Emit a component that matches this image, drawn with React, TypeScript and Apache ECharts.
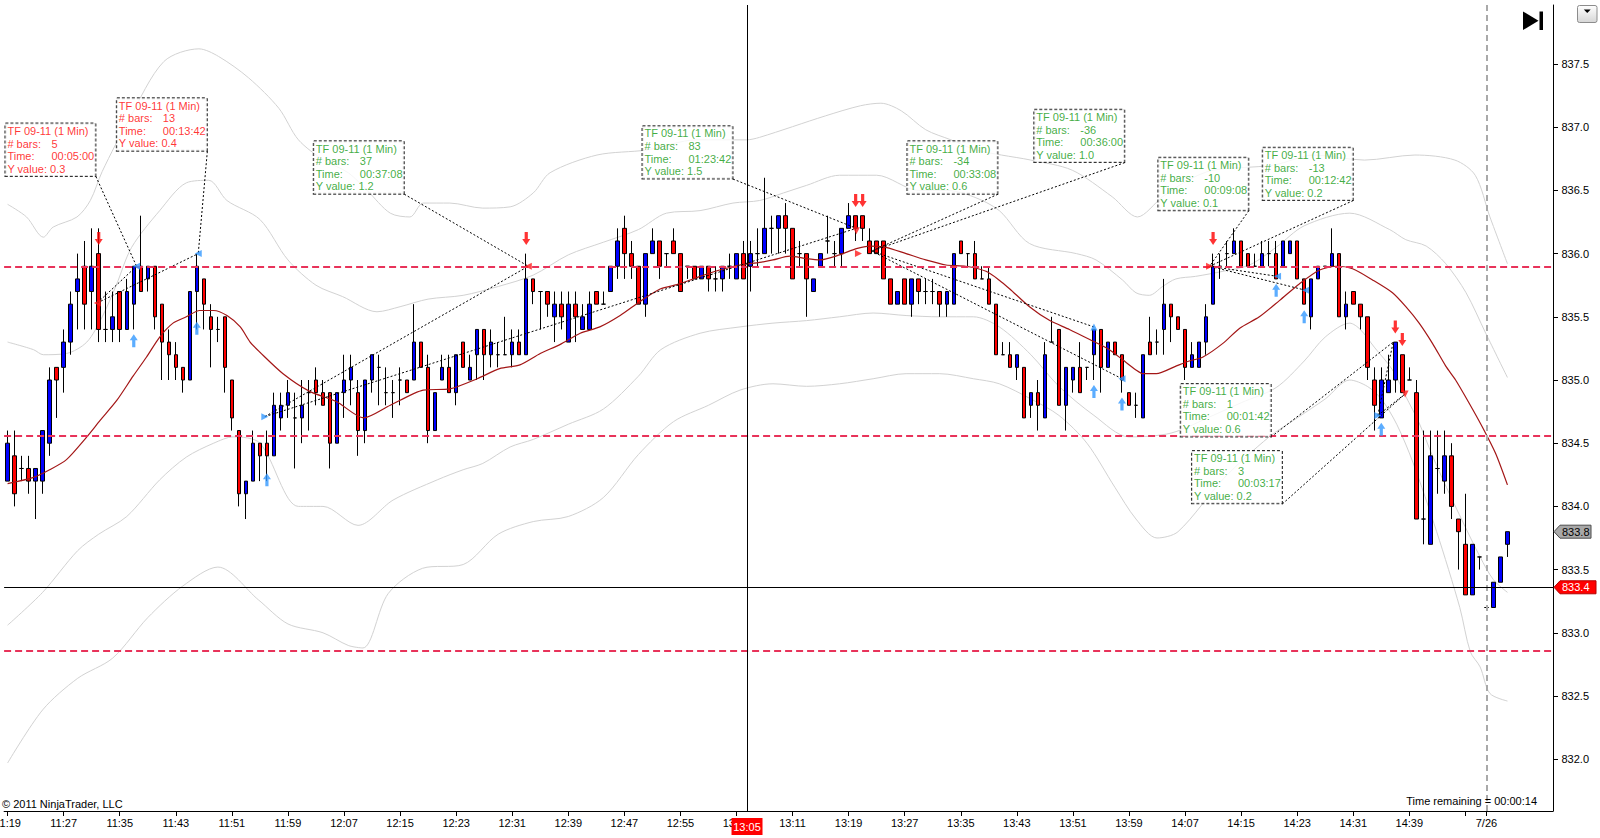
import React, { useEffect, useRef } from "react";
import * as echarts from "echarts";

const FONT = '"Liberation Sans", Arial, Helvetica, sans-serif';

const FIRST_BAR_TIME = "11:19";
const SLOT_COUNT = 221;

// [open, close, low, high] – one per 1-minute bar from 11:19
const CANDLES = [
  [834.2, 834.5, 834.2, 834.6], [834.4, 834.1, 834.0, 834.6], [834.3, 834.3, 834.2, 834.4], [834.3, 834.2, 834.1, 834.4],
  [834.2, 834.3, 833.9, 834.3], [834.2, 834.6, 834.1, 834.6], [834.5, 835.0, 834.4, 835.1], [835.1, 835.0, 834.7, 835.1],
  [835.1, 835.3, 834.9, 835.4], [835.3, 835.6, 835.2, 835.7], [835.7, 835.8, 835.4, 836.0], [835.9, 835.6, 835.4, 836.1],
  [835.7, 835.9, 835.4, 836.2], [836.0, 835.4, 835.3, 836.2], [835.4, 835.4, 835.3, 835.7], [835.4, 835.5, 835.3, 835.7],
  [835.7, 835.4, 835.3, 835.7], [835.4, 835.7, 835.4, 835.8], [835.6, 835.9, 835.4, 835.9], [835.9, 835.7, 835.7, 836.3],
  [835.8, 835.9, 835.7, 835.9], [835.9, 835.5, 835.4, 835.9], [835.6, 835.3, 835.0, 835.6], [835.3, 835.2, 835.0, 835.4],
  [835.2, 835.1, 835.0, 835.3], [835.1, 835.0, 834.9, 835.1], [835.0, 835.7, 835.0, 835.7], [835.7, 835.9, 835.4, 836.0],
  [835.8, 835.6, 835.4, 835.8], [835.5, 835.4, 835.1, 835.6], [835.4, 835.4, 835.3, 835.5], [835.5, 835.1, 834.9, 835.5],
  [835.0, 834.7, 834.6, 835.0], [834.6, 834.1, 834.0, 834.6], [834.1, 834.2, 833.9, 834.2], [834.2, 834.5, 834.2, 834.6],
  [834.5, 834.4, 834.2, 834.5], [834.5, 834.4, 834.2, 834.6], [834.4, 834.8, 834.4, 834.9], [834.7, 834.8, 834.6, 834.9],
  [834.8, 834.9, 834.7, 835.0], [834.7, 834.7, 834.3, 834.9], [834.7, 834.8, 834.5, 835.0], [834.9, 834.9, 834.6, 835.0],
  [835.0, 834.9, 834.8, 835.1], [834.9, 834.8, 834.8, 835.0], [834.9, 834.5, 834.3, 834.9], [834.5, 834.9, 834.5, 834.9],
  [834.9, 835.0, 834.7, 835.2], [835.0, 835.1, 834.8, 835.2], [834.9, 834.6, 834.4, 835.0], [834.6, 835.0, 834.5, 835.0],
  [835.0, 835.2, 834.9, 835.2], [835.1, 835.1, 834.8, 835.2], [834.9, 834.9, 834.8, 835.1], [834.9, 834.9, 834.7, 835.0],
  [835.0, 835.0, 834.8, 835.1], [835.0, 834.9, 834.9, 835.0], [835.0, 835.3, 835.0, 835.6], [835.3, 835.1, 835.1, 835.3],
  [835.1, 834.6, 834.5, 835.2], [834.6, 834.9, 834.6, 834.9], [835.0, 835.1, 835.0, 835.2], [835.1, 834.9, 834.9, 835.2],
  [834.9, 835.2, 834.8, 835.2], [835.3, 835.1, 835.1, 835.3], [835.0, 835.1, 835.0, 835.2], [835.2, 835.4, 835.0, 835.4],
  [835.4, 835.2, 835.0, 835.4], [835.2, 835.3, 835.1, 835.4], [835.2, 835.2, 835.1, 835.3], [835.2, 835.2, 835.2, 835.5],
  [835.2, 835.3, 835.1, 835.4], [835.3, 835.2, 835.2, 835.4], [835.2, 835.8, 835.2, 836.0], [835.8, 835.7, 835.6, 835.8],
  [835.7, 835.7, 835.4, 835.7], [835.7, 835.6, 835.5, 835.7], [835.5, 835.6, 835.3, 835.7], [835.6, 835.5, 835.4, 835.7],
  [835.3, 835.6, 835.3, 835.7], [835.6, 835.5, 835.3, 835.7], [835.4, 835.5, 835.4, 835.6], [835.4, 835.6, 835.4, 835.7],
  [835.7, 835.6, 835.6, 835.7], [835.6, 835.6, 835.6, 835.7], [835.7, 835.9, 835.7, 835.9], [835.9, 836.1, 835.8, 836.2],
  [836.2, 836.0, 835.8, 836.3], [836.0, 835.9, 835.8, 836.1], [835.9, 835.6, 835.6, 835.9], [835.6, 836.0, 835.5, 836.0],
  [836.0, 836.1, 836.0, 836.2], [836.1, 835.9, 835.8, 836.1], [836.0, 836.0, 835.9, 836.0], [836.1, 836.0, 836.0, 836.2],
  [836.0, 835.7, 835.7, 836.0], [835.9, 835.9, 835.8, 835.9], [835.9, 835.8, 835.8, 835.9], [835.8, 835.9, 835.8, 835.9],
  [835.9, 835.8, 835.7, 835.9], [835.8, 835.8, 835.7, 835.9], [835.8, 835.9, 835.7, 835.9], [835.9, 835.9, 835.8, 836.0],
  [835.8, 836.0, 835.8, 836.0], [836.0, 835.8, 835.8, 836.1], [835.9, 836.0, 835.7, 836.1], [836.0, 836.0, 835.9, 836.2],
  [836.0, 836.2, 836.0, 836.6], [836.2, 836.2, 836.0, 836.3], [836.2, 836.3, 836.0, 836.3], [836.3, 836.2, 836.0, 836.4],
  [836.2, 835.8, 835.8, 836.2], [836.0, 836.0, 835.9, 836.1], [836.0, 835.8, 835.5, 836.0], [835.7, 835.8, 835.7, 835.8],
  [835.9, 836.0, 835.9, 836.0], [836.1, 836.1, 836.0, 836.3], [836.0, 836.0, 835.9, 836.1], [836.0, 836.2, 835.9, 836.2],
  [836.2, 836.3, 836.2, 836.4], [836.3, 836.2, 836.1, 836.3], [836.3, 836.2, 836.1, 836.3], [836.1, 836.0, 836.0, 836.2],
  [836.1, 836.0, 836.0, 836.1], [836.1, 835.8, 835.8, 836.1], [835.8, 835.6, 835.6, 835.8], [835.6, 835.7, 835.6, 835.7],
  [835.8, 835.6, 835.6, 835.8], [835.6, 835.8, 835.5, 835.8], [835.8, 835.7, 835.6, 835.8], [835.7, 835.7, 835.6, 835.8],
  [835.7, 835.7, 835.6, 835.8], [835.7, 835.6, 835.5, 835.7], [835.6, 835.7, 835.5, 835.7], [835.6, 836.0, 835.6, 836.0],
  [836.1, 836.0, 836.0, 836.1], [836.0, 836.0, 835.9, 836.0], [836.0, 835.8, 835.8, 836.1], [835.8, 835.8, 835.8, 835.9],
  [835.8, 835.6, 835.6, 835.9], [835.6, 835.2, 835.2, 835.6], [835.2, 835.2, 835.2, 835.3], [835.2, 835.1, 835.1, 835.3],
  [835.1, 835.2, 835.0, 835.2], [835.1, 834.7, 834.7, 835.1], [834.8, 834.9, 834.7, 834.9], [834.9, 834.8, 834.6, 835.0],
  [834.7, 835.2, 834.7, 835.3], [835.3, 835.3, 835.3, 835.5], [835.4, 834.8, 834.8, 835.4], [834.8, 835.1, 834.6, 835.1],
  [835.0, 835.1, 834.9, 835.1], [835.1, 834.9, 834.9, 835.3], [835.1, 835.1, 835.0, 835.1], [835.2, 835.4, 835.0, 835.4],
  [835.4, 835.1, 834.9, 835.4], [835.1, 835.3, 835.1, 835.3], [835.3, 835.2, 835.2, 835.3], [835.2, 835.0, 834.9, 835.2],
  [834.9, 834.8, 834.8, 834.9], [834.8, 834.8, 834.7, 834.9], [834.7, 835.2, 834.7, 835.2], [835.3, 835.2, 835.2, 835.5],
  [835.3, 835.3, 835.2, 835.4], [835.4, 835.6, 835.2, 835.8], [835.6, 835.5, 835.3, 835.6], [835.5, 835.4, 835.4, 835.5],
  [835.4, 835.1, 835.0, 835.4], [835.1, 835.2, 835.1, 835.3], [835.1, 835.3, 835.1, 835.3], [835.3, 835.5, 835.2, 835.6],
  [835.6, 835.9, 835.6, 836.0], [835.9, 835.9, 835.8, 836.0], [836.0, 836.0, 835.9, 836.1], [836.0, 836.1, 836.0, 836.2],
  [836.1, 835.9, 835.9, 836.1], [836.0, 835.9, 835.9, 836.0], [835.9, 835.9, 835.9, 836.0], [835.9, 836.0, 835.9, 836.1],
  [836.0, 836.0, 835.9, 836.1], [836.0, 835.8, 835.8, 836.1], [835.9, 836.1, 835.9, 836.1], [836.0, 836.1, 836.0, 836.1],
  [836.1, 835.8, 835.8, 836.1], [835.8, 835.6, 835.6, 835.8], [835.5, 835.8, 835.4, 835.8], [835.8, 835.9, 835.8, 835.9],
  [835.9, 835.9, 835.9, 835.9], [835.9, 836.0, 835.9, 836.2], [836.0, 835.5, 835.5, 836.0], [835.5, 835.6, 835.4, 835.7],
  [835.7, 835.6, 835.6, 835.7], [835.6, 835.5, 835.4, 835.6], [835.5, 835.1, 835.0, 835.5], [835.0, 834.8, 834.6, 835.1],
  [834.7, 835.0, 834.7, 835.1], [834.9, 835.0, 834.9, 835.2], [835.0, 835.3, 834.9, 835.3], [835.2, 834.9, 834.9, 835.2],
  [835.0, 835.0, 835.0, 835.1], [834.9, 833.9, 833.9, 835.0], [833.9, 833.9, 833.7, 834.6], [833.7, 834.4, 833.7, 834.6],
  [834.3, 834.3, 834.1, 834.6], [834.2, 834.4, 834.1, 834.6], [834.4, 834.0, 833.9, 834.5], [833.9, 833.8, 833.5, 833.9],
  [833.7, 833.3, 833.3, 834.1], [833.3, 833.7, 833.3, 833.7], [833.6, 833.6, 833.5, 833.6], [833.2, 833.2, 833.2, 833.2],
  [833.2, 833.4, 833.2, 833.4], [833.4, 833.6, 833.4, 833.6], [833.7, 833.8, 833.6, 833.8],
];

// moving average line: [bar index, price]
const MOVING_AVERAGE = [
  [0, 834.18], [3.7, 834.23], [6, 834.29], [8.4, 834.37], [11.3, 834.55], [13.2, 834.68], [15.6, 834.84], [17.9, 835.03],
  [19.8, 835.18], [21.7, 835.34], [23.6, 835.45], [25.5, 835.5], [27.4, 835.55], [29.4, 835.55], [31.3, 835.51],
  [33.2, 835.42], [34.6, 835.3], [36, 835.22], [39.3, 835.05], [43.1, 834.91], [46.9, 834.83], [50.8, 834.7],
  [54.6, 834.8], [59.3, 834.92], [63.1, 834.93], [67, 835.01], [70.2, 835.09], [73.1, 835.12], [76, 835.21],
  [78.8, 835.28], [81.7, 835.37], [84.5, 835.42], [87.4, 835.51], [90.2, 835.62], [93.1, 835.72], [95.9, 835.76],
  [98.8, 835.82], [101.6, 835.87], [104.5, 835.91], [107.3, 835.93], [109.2, 835.95], [111.6, 835.98], [114, 835.96],
  [115.9, 835.95], [118.7, 835.99], [121.1, 836.04], [123, 836.06], [125.3, 836.05], [128.2, 836.0], [131, 835.95],
  [133.9, 835.91], [136.7, 835.9], [139.6, 835.86], [141.5, 835.79], [143, 835.72], [145.8, 835.58], [148.7, 835.47],
  [151.5, 835.4], [154.4, 835.32], [157.2, 835.24], [159.1, 835.16], [161, 835.08], [162, 835.05], [163.9, 835.05],
  [166.7, 835.11], [168.6, 835.15], [170.5, 835.18], [173.4, 835.29], [175.8, 835.41], [178.6, 835.5], [181.5, 835.63],
  [184.3, 835.76], [187.2, 835.87], [189.6, 835.9], [191.9, 835.88], [194.8, 835.79], [197.6, 835.69], [199.5, 835.58],
  [201.4, 835.45], [203.3, 835.29], [205.2, 835.11], [206.6, 835.0], [208.5, 834.82], [210.4, 834.63], [212.3, 834.42],
  [214, 834.17],
];

const BAND_OUTER_UPPER = [
  [0, 836.39], [2.7, 836.29], [5.1, 836.13], [6.5, 836.21], [9.9, 836.29], [11.8, 836.42], [13.5, 836.65], [17.4, 837.07],
  [22.3, 837.52], [27.3, 837.62], [30.1, 837.56], [34.4, 837.39], [38.7, 837.15], [41.5, 836.9], [45.1, 836.74],
  [48.6, 836.64], [51.3, 836.5], [54.6, 836.32], [57.4, 836.29], [59.3, 836.4], [63.1, 836.4], [67.8, 836.36],
  [71.7, 836.37], [75, 836.48], [77.4, 836.64], [84.1, 836.78], [91.2, 836.82], [98.3, 836.9], [105.4, 836.9],
  [107.3, 836.92], [116.7, 837.09], [121.7, 837.17], [124.6, 837.19], [127.5, 837.13], [131, 836.98], [134.6, 836.9],
  [138.2, 836.82], [141.8, 836.78], [146, 836.74], [151.9, 836.66], [157.6, 836.45], [161.2, 836.29], [164.8, 836.45],
  [168.4, 836.58], [172, 836.66], [180.6, 836.7], [186.4, 836.78], [193.6, 836.74], [200.8, 836.78], [206.5, 836.74],
  [209.4, 836.62], [211.5, 836.29], [214, 835.92],
];
const BAND_INNER_UPPER = [
  [0, 835.3], [3.7, 835.24], [5.1, 835.2], [8.4, 835.21], [11.3, 835.3], [13.5, 835.5], [15.5, 835.75], [17.7, 836.05],
  [21.7, 836.34], [25.5, 836.56], [28.7, 836.58], [31.3, 836.42], [36, 836.27], [40, 835.95], [44, 835.75],
  [47.8, 835.66], [52.7, 835.54], [56, 835.58], [60, 835.64], [65, 835.67], [70, 835.74], [75, 835.83], [80, 835.99],
  [85, 836.09], [90, 836.19], [94, 836.32], [98.8, 836.34], [103.5, 836.4], [107.3, 836.42], [110.7, 836.48],
  [114, 836.54], [118.7, 836.62], [124, 836.62], [130, 836.5], [134, 836.5], [137.8, 836.45], [141.5, 836.34],
  [145.8, 836.08], [152.5, 836.0], [155.3, 835.95], [159.1, 835.79], [161, 835.69], [162.9, 835.67], [164.8, 835.74],
  [166.7, 835.8], [169.5, 835.82], [173.4, 835.86], [177.2, 835.91], [181, 836.05], [185, 836.22], [191.5, 836.32],
  [197.2, 836.19], [199.5, 836.11], [202.4, 836.06], [205.2, 835.92], [208.1, 835.69], [210.9, 835.37], [214, 835.02],
];
const BAND_INNER_LOWER = [
  [0, 833.06], [5, 833.32], [10, 833.65], [13, 833.78], [17, 833.92], [21.7, 834.21], [25.5, 834.39], [29.4, 834.5],
  [32.2, 834.55], [36, 834.5], [41.5, 834.0], [45, 834.0], [50, 833.85], [55, 834.05], [61.3, 834.21], [65, 834.29],
  [67.8, 834.34], [71.7, 834.47], [75, 834.53], [80, 834.65], [85, 834.77], [90, 835.03], [93.2, 835.24], [98.8, 835.37],
  [104.5, 835.42], [109.2, 835.45], [114, 835.47], [118.7, 835.5], [123.5, 835.53], [128.2, 835.51], [133, 835.5],
  [137.8, 835.5], [141.5, 835.42], [146, 835.2], [150, 834.95], [155, 834.72], [160, 834.55], [166, 834.58],
  [172, 834.72], [176, 834.82], [181, 834.94], [185, 835.15], [188, 835.34], [191.5, 835.45], [193, 835.4],
  [195, 835.26], [197.6, 835.08], [199.5, 834.87], [201.4, 834.66], [203.3, 834.4], [205.3, 834.15], [207.7, 833.87],
  [210.1, 833.6], [212, 833.42], [214, 833.32],
];
const BAND_OUTER_LOWER = [
  [0, 831.97], [5, 832.39], [10, 832.64], [15, 832.8], [20, 833.12], [25, 833.37], [30, 833.52], [35.8, 833.26],
  [40, 833.07], [45, 833.0], [48.6, 832.9], [50.7, 832.88], [54.3, 833.31], [59.2, 833.51], [65, 833.54], [70, 833.78],
  [75, 833.88], [80, 833.92], [85, 834.07], [90, 834.41], [95, 834.67], [100, 834.8], [104.5, 834.92], [109.2, 834.97],
  [114, 834.95], [118.7, 834.97], [123.5, 835.01], [128.2, 835.05], [133, 835.05], [137.8, 835.01], [141.5, 834.97],
  [146, 834.85], [150, 834.72], [154, 834.5], [158, 834.15], [161, 833.9], [164, 833.75], [167, 833.8], [173.5, 834.22],
  [180, 834.55], [184, 834.7], [188, 834.85], [191.5, 835.0], [194, 834.95], [196, 834.85], [198.2, 834.65],
  [200.5, 834.35], [203.9, 833.8], [207.2, 833.2], [208.7, 832.85], [210.1, 832.73], [211.5, 832.52], [214, 832.46],
];

const X_TICKS = [0, 8, 16, 24, 32, 40, 48, 56, 64, 72, 80, 88, 96, 104, 112, 120, 128, 136, 144, 152, 160, 168, 176, 184, 192, 200, 208, 211];
const X_LABELS = [
  [0, "11:19"], [8, "11:27"], [16, "11:35"], [24, "11:43"], [32, "11:51"], [40, "11:59"], [48, "12:07"], [56, "12:15"],
  [64, "12:23"], [72, "12:31"], [80, "12:39"], [88, "12:47"], [96, "12:55"], [104, "13:03"], [112, "13:11"], [120, "13:19"],
  [128, "13:27"], [136, "13:35"], [144, "13:43"], [152, "13:51"], [160, "13:59"], [168, "14:07"], [176, "14:15"],
  [184, "14:23"], [192, "14:31"], [200, "14:39"], [211, "7/26"],
];

const PRICE_MIN = 831.59;
const PRICE_MAX = 837.967;
const HORIZONTAL_LEVELS = [835.9, 834.56, 832.855];
const LAST_PRICE = 833.8;
const CROSS_INDEX = 105.5;
const CROSS_PRICE = 833.36;
const CROSS_TIME_LABEL = "13:05";
const CROSS_PRICE_LABEL = "833.4";
const SESSION_BREAK_INDEX = 211;

const SELL_ARROWS = [[13, 836.12], [74, 836.12], [121, 836.42], [122, 836.42], [172, 836.12], [198, 835.42], [199, 835.32]];
const BUY_ARROWS = [[18, 835.31], [27, 835.41], [37, 834.21], [155, 834.91], [159, 834.81], [181, 835.71], [185, 835.5], [196, 834.61]];

// [bar index, price, side, direction]
const ANCHOR_MARKERS = [
  [12.8, 835.61, "sell", "left"], [18.4, 835.9, "buy", "left"], [27.2, 836.0, "buy", "left"],
  [36.7, 834.71, "buy", "right"], [74.3, 835.9, "sell", "left"], [121.1, 836.18, "sell", "down"],
  [121.4, 836.0, "sell", "right"], [155.0, 835.42, "buy", "up"], [159.0, 835.01, "buy", "left"],
  [171.5, 835.9, "sell", "right"], [181.2, 835.82, "buy", "left"], [185.2, 835.71, "buy", "left"],
  [195.5, 834.72, "buy", "right"], [199.4, 834.89, "sell", "down"],
];

// ruler measurements: from -> to, in [bar index, price]
const RULER_LINES = [
  [[12.8, 835.61], [18.4, 835.9]], [[12.8, 835.61], [27.2, 836.0]],
  [[36.7, 834.71], [74.3, 835.9]], [[36.7, 834.71], [121.1, 836.2]],
  [[155.0, 835.42], [123.3, 836.02]], [[159.0, 835.01], [123.3, 836.02]],
  [[181.2, 835.82], [171.5, 835.9]], [[185.2, 835.71], [171.5, 835.9]],
  [[195.5, 834.72], [197.7, 835.3]], [[195.5, 834.72], [199.4, 834.89]],
];

// ruler read-outs: box bottom-right corner and the ruler end it points to
const RULER_BOXES = [
  { corner: [12.6, 836.61], target: [18.4, 835.9], bars: "5", time: "00:05:00", yValue: "0.3", kind: "red" },
  { corner: [28.5, 836.81], target: [27.2, 836.0], bars: "13", time: "00:13:42", yValue: "0.4", kind: "red" },
  { corner: [56.6, 836.47], target: [74.3, 835.9], bars: "37", time: "00:37:08", yValue: "1.2", kind: "green" },
  { corner: [103.5, 836.59], target: [121.1, 836.2], bars: "83", time: "01:23:42", yValue: "1.5", kind: "green" },
  { corner: [141.3, 836.47], target: [123.3, 836.02], bars: "-34", time: "00:33:08", yValue: "0.6", kind: "green" },
  { corner: [159.4, 836.72], target: [123.3, 836.02], bars: "-36", time: "00:36:00", yValue: "1.0", kind: "green" },
  { corner: [177.1, 836.34], target: [171.5, 835.9], bars: "-10", time: "00:09:08", yValue: "0.1", kind: "green" },
  { corner: [192.0, 836.42], target: [171.5, 835.9], bars: "-13", time: "00:12:42", yValue: "0.2", kind: "green" },
  { corner: [180.3, 834.55], target: [197.7, 835.3], bars: "1", time: "00:01:42", yValue: "0.6", kind: "green" },
  { corner: [181.9, 834.02], target: [199.4, 834.89], bars: "3", time: "00:03:17", yValue: "0.2", kind: "green" },
];
const INSTRUMENT_LABEL = "TF 09-11 (1 Min)";

const TEXT_COLORS = { red: "#ff0000", green: "#0f980f" };
const ROTATIONS = { up: 0, left: 90, down: 180, right: -90 };
const SIDE_COLORS = { sell: "#ff1a1a", buy: "#3399ff" };
const DOWN_ARROW = "path://M3,0L7,0L7,7L10,7L5,13L0,7L3,7Z";
const UP_ARROW = "path://M5,0L10,6L7,6L7,13L3,13L3,6L0,6Z";

const AXIS_X = 1553;
const BOX_W = 86;
const BOX_LINE = 12.6;

function buildCategories() {
  const [h, m] = FIRST_BAR_TIME.split(":").map(Number);
  const start = h * 60 + m;
  return Array.from({ length: SLOT_COUNT }, (_, i) => {
    const t = start + i;
    return `${Math.floor(t / 60)}:${String(t % 60).padStart(2, "0")}`;
  });
}

function bandSeries(name: string, data: number[][]) {
  return {
    type: "line",
    name,
    xAxisIndex: 1,
    yAxisIndex: 0,
    data,
    symbol: "none",
    smooth: 0.3,
    silent: true,
    lineStyle: { color: "#d2d2d2", width: 1 },
    z: 1,
  };
}

function buildOption() {
  const labelMap = new Map<number, string>(X_LABELS.map((l) => [l[0] as number, l[1] as string]));
  const tickSet = new Set<number>(X_TICKS);
  return {
    animation: false,
    backgroundColor: "#ffffff",
    grid: {
      left: 4.1,
      right: 1600 - AXIS_X,
      top: 5,
      bottom: 27,
      containLabel: false,
      outerBoundsMode: "none",
    },
    xAxis: [
      {
        type: "category",
        data: buildCategories(),
        boundaryGap: true,
        axisLine: { show: true, onZero: false, lineStyle: { color: "#000", width: 1 } },
        axisTick: {
          show: true,
          length: 5,
          alignWithLabel: true,
          interval: (idx: number) => tickSet.has(idx),
          lineStyle: { color: "#000" },
        },
        axisLabel: {
          interval: (idx: number) => labelMap.has(idx),
          formatter: (v: string, idx: number) => labelMap.get(idx) ?? v,
          color: "#000",
          fontSize: 11,
          fontFamily: FONT,
          margin: 6,
        },
        splitLine: { show: false },
      },
      { type: "value", min: -0.5, max: SLOT_COUNT - 0.5, show: false, axisLine: { onZero: false } },
    ],
    yAxis: {
      type: "value",
      position: "right",
      min: PRICE_MIN,
      max: PRICE_MAX,
      minInterval: 0.5,
      maxInterval: 0.5,
      axisLine: { show: true, onZero: false, lineStyle: { color: "#000", width: 1 } },
      axisTick: { show: true, length: 5, lineStyle: { color: "#000" } },
      axisLabel: {
        showMinLabel: false,
        showMaxLabel: false,
        formatter: (v: number) => v.toFixed(1),
        color: "#000",
        fontSize: 11,
        fontFamily: FONT,
        margin: 8.5,
      },
      splitLine: { show: false },
    },
    series: [
      bandSeries("Outer upper band", BAND_OUTER_UPPER),
      bandSeries("Inner upper band", BAND_INNER_UPPER),
      bandSeries("Inner lower band", BAND_INNER_LOWER),
      bandSeries("Outer lower band", BAND_OUTER_LOWER),
      {
        type: "candlestick",
        name: "TF 09-11",
        xAxisIndex: 0,
        yAxisIndex: 0,
        data: CANDLES,
        barWidth: 4,
        silent: true,
        itemStyle: { color: "#0000ff", color0: "#ff0000", borderColor: "#000", borderColor0: "#000", borderWidth: 1 },
        z: 2,
      },
      {
        type: "line",
        name: "SMA",
        xAxisIndex: 1,
        yAxisIndex: 0,
        data: MOVING_AVERAGE,
        symbol: "none",
        smooth: 0.25,
        silent: true,
        lineStyle: { color: "#a31616", width: 1.2 },
        z: 3,
        markLine: {
          silent: true,
          symbol: ["none", "none"],
          label: { show: false },
          data: [
            ...HORIZONTAL_LEVELS.map((v) => ({ yAxis: v, lineStyle: { color: "#e8335a", width: 2, type: [7, 4] } })),
            { xAxis: SESSION_BREAK_INDEX, lineStyle: { color: "#a9a9a9", width: 2, type: [6, 4] } },
            { xAxis: CROSS_INDEX, lineStyle: { color: "#000", width: 1, type: "solid" } },
            { yAxis: CROSS_PRICE, lineStyle: { color: "#000", width: 1, type: "solid" } },
          ],
        },
      },
      {
        type: "lines",
        name: "Rulers",
        coordinateSystem: "cartesian2d",
        xAxisIndex: 1,
        yAxisIndex: 0,
        silent: true,
        data: [
          ...RULER_LINES.map((c) => ({ coords: c })),
          ...RULER_BOXES.map((b) => ({ coords: [b.corner, b.target] })),
        ],
        lineStyle: { color: "#000", width: 1, type: [2, 2], opacity: 1 },
        z: 4,
      },
      {
        type: "scatter",
        name: "Anchors",
        xAxisIndex: 1,
        yAxisIndex: 0,
        silent: true,
        symbol: "triangle",
        symbolSize: 7,
        data: ANCHOR_MARKERS.map((m) => ({
          value: [m[0], m[1]],
          symbolRotate: (ROTATIONS as any)[m[3] as string],
          itemStyle: { color: (SIDE_COLORS as any)[m[2] as string] },
        })),
        z: 5,
      },
      {
        type: "scatter",
        name: "Sell signals",
        xAxisIndex: 1,
        yAxisIndex: 0,
        silent: true,
        symbol: DOWN_ARROW,
        symbolSize: [8, 13],
        itemStyle: { color: "#ff0000" },
        data: SELL_ARROWS,
        z: 5,
      },
      {
        type: "scatter",
        name: "Buy signals",
        xAxisIndex: 1,
        yAxisIndex: 0,
        silent: true,
        symbol: UP_ARROW,
        symbolSize: [8, 13],
        itemStyle: { color: "#3399ff" },
        data: BUY_ARROWS,
        z: 5,
      },
      {
        type: "scatter",
        name: "Ruler read-outs",
        xAxisIndex: 1,
        yAxisIndex: 0,
        silent: true,
        symbolSize: 1,
        itemStyle: { color: "transparent" },
        z: 6,
        data: RULER_BOXES.map((b) => {
          const color = (TEXT_COLORS as any)[b.kind];
          const txt = { color, fontSize: 11, fontFamily: FONT, lineHeight: BOX_LINE };
          return {
            value: b.corner,
            label: {
              show: true,
              position: [-(BOX_W + 4), -(BOX_LINE * 4 + 2)],
              align: "left",
              verticalAlign: "top",
              width: BOX_W,
              padding: [1, 2, 1, 2],
              backgroundColor: "#ffffff",
              borderColor: "#000",
              borderWidth: 1,
              borderType: [3, 2],
              ...txt,
              formatter: [
                INSTRUMENT_LABEL,
                `{k|# bars:}{v|${b.bars}}`,
                `{k|Time:}{v|${b.time}}`,
                `Y value: ${b.yValue}`,
              ].join("\n"),
              rich: { k: { ...txt, width: 44, align: "left" }, v: { ...txt, align: "left" } },
            },
          };
        }),
      },
    ],
  };
}

function buildGraphics(xCross: number, yLast: number, yCross: number) {
  const ax = AXIS_X;
  const text = (x: number, y: number, t: string, fill: string, align = "left") => ({
    type: "text",
    z: 101,
    x,
    y,
    silent: true,
    style: { text: t, fill, fontSize: 11, fontFamily: FONT, align, verticalAlign: "middle" },
  });
  return [
    {
      type: "polygon",
      z: 100,
      silent: true,
      shape: { points: [[ax + 1, yLast], [ax + 7, yLast - 6.5], [ax + 38, yLast - 6.5], [ax + 38, yLast + 6.5], [ax + 7, yLast + 6.5]] },
      style: { fill: "#a8a8a8", stroke: "#4a4a4a", lineWidth: 1 },
    },
    text(ax + 9, yLast, LAST_PRICE.toFixed(1), "#000"),
    {
      type: "polygon",
      z: 100,
      silent: true,
      shape: { points: [[ax + 1, yCross], [ax + 7, yCross - 6.5], [ax + 43, yCross - 6.5], [ax + 43, yCross + 6.5], [ax + 7, yCross + 6.5]] },
      style: { fill: "#ff0000", stroke: "#b40000", lineWidth: 1 },
    },
    text(ax + 9, yCross, CROSS_PRICE_LABEL, "#fff"),
    {
      type: "rect",
      z: 100,
      silent: true,
      shape: { x: xCross - 15.5, y: 818, width: 31, height: 17 },
      style: { fill: "#ff0000" },
    },
    text(xCross, 826.5, CROSS_TIME_LABEL, "#fff", "center"),
    {
      type: "polygon",
      z: 100,
      silent: true,
      shape: { points: [[1523, 11.5], [1523, 30], [1538.5, 20.75]] },
      style: { fill: "#000" },
    },
    { type: "rect", z: 100, silent: true, shape: { x: 1539.5, y: 11.5, width: 3.5, height: 18.5 }, style: { fill: "#000" } },
    {
      type: "rect",
      z: 100,
      silent: true,
      shape: { x: 1577.5, y: 5.5, width: 19.5, height: 17, r: 2 },
      style: {
        fill: new echarts.graphic.LinearGradient(0, 0, 0, 1, [
          { offset: 0, color: "#ffffff" },
          { offset: 1, color: "#d6d6d6" },
        ]),
        stroke: "#8c8c8c",
        lineWidth: 1,
      },
    },
    {
      type: "polygon",
      z: 101,
      silent: true,
      shape: { points: [[1583.8, 9.5], [1590.7, 9.5], [1587.25, 13]] },
      style: { fill: "#000" },
    },
    text(2, 804, "© 2011 NinjaTrader, LLC", "#000"),
    text(1537, 801, "Time remaining = 00:00:14", "#000", "right"),
  ];
}

export default function App() {
  const ref = useRef<HTMLDivElement>(null);
  useEffect(() => {
    document.body.style.margin = "0";
    const el = ref.current;
    if (!el) return;
    const chart = echarts.init(el, undefined, { renderer: "svg" });
    chart.setOption(buildOption() as any);
    const yLast = chart.convertToPixel({ yAxisIndex: 0 } as any, LAST_PRICE) as unknown as number;
    const yCross = chart.convertToPixel({ yAxisIndex: 0 } as any, CROSS_PRICE) as unknown as number;
    const xCross = chart.convertToPixel({ xAxisIndex: 1 } as any, CROSS_INDEX) as unknown as number;
    chart.setOption({ graphic: buildGraphics(xCross, yLast, yCross) } as any);
    return () => chart.dispose();
  }, []);
  return <div ref={ref} style={{ width: 1600, height: 838, background: "#fff" }} />;
}
